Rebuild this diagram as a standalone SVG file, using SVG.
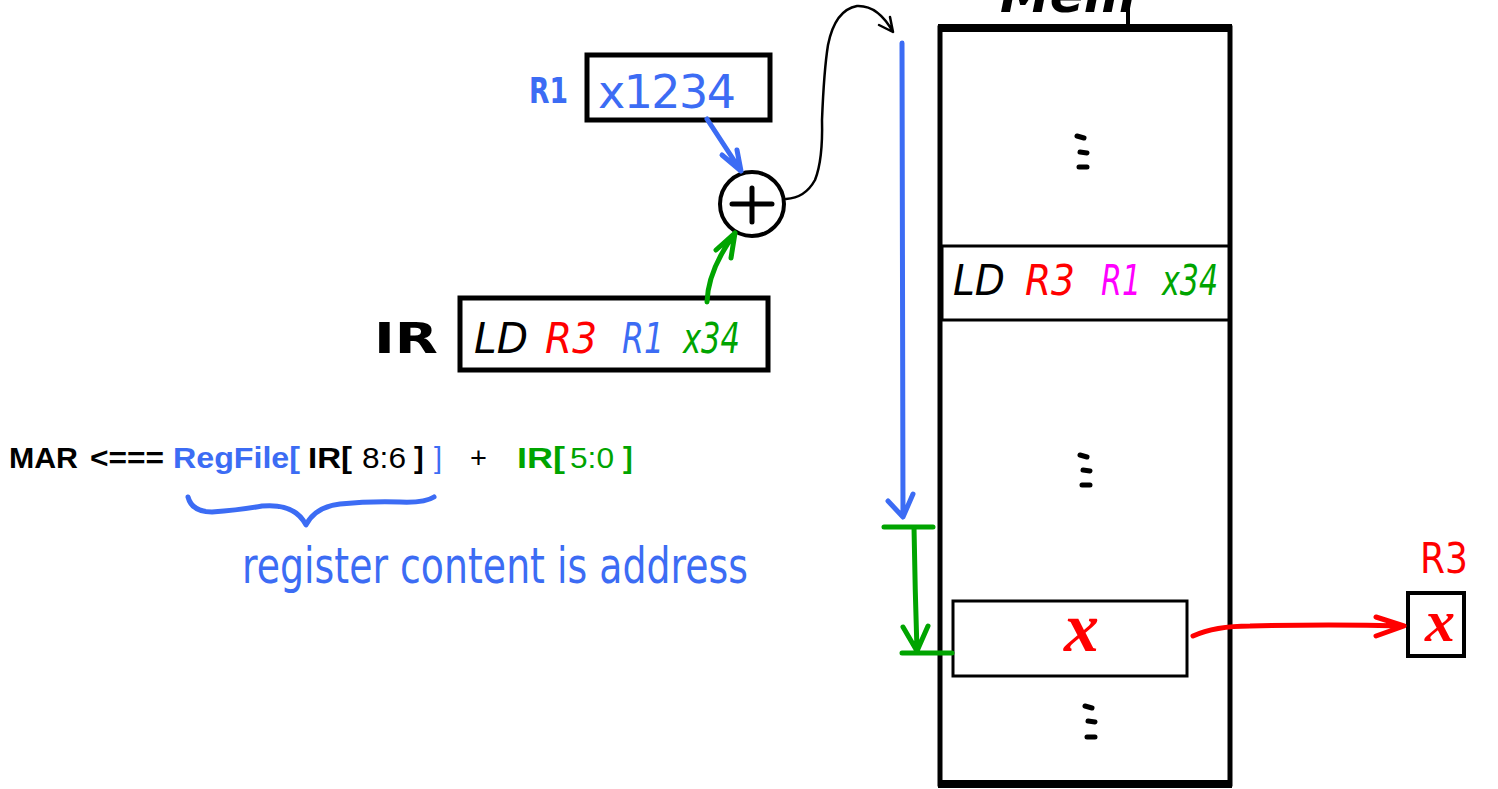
<svg xmlns="http://www.w3.org/2000/svg" width="1498" height="789" viewBox="0 0 1498 789">
<style>
.box{fill:#fff;stroke:#000;stroke-width:5}
.thin{fill:#fff;stroke:#000;stroke-width:3}
.hw{font-family:"DejaVu Sans",sans-serif;font-style:oblique}
.lbl{font-family:"DejaVu Sans",sans-serif}
.eq{font-family:"Liberation Sans",Arial,sans-serif;font-size:29px}
.b{font-weight:bold}
.blue{fill:#3c6cf4}
.red{fill:#ff0000}
.green{fill:#00a400}
.mag{fill:#ff00ff}
.blk{fill:#000}
.dot{stroke:#000;stroke-width:5;stroke-linecap:round;fill:none}
.sb{stroke:#3c6cf4;fill:none;stroke-linecap:round;stroke-linejoin:round}
.sg{stroke:#00a400;fill:none;stroke-linecap:round;stroke-linejoin:round}
.sr{stroke:#ff0000;fill:none;stroke-linecap:round;stroke-linejoin:round}
.sk{stroke:#000;fill:none;stroke-linecap:round;stroke-linejoin:round}
</style>

<g id="mem">
  <text x="1000" y="12" class="lbl b blk" font-size="50" font-style="oblique">Mem</text>
  <line x1="1128" y1="0" x2="1128" y2="25" stroke="#000" stroke-width="4"/>
  <rect x="940" y="28" width="290" height="756" class="box"/>
  <line x1="938" y1="28" x2="1232" y2="28" stroke="#000" stroke-width="8"/>
  <line x1="938" y1="784" x2="1232" y2="784" stroke="#000" stroke-width="8"/>
  <g id="dots1"><path class="dot" d="M1077 136 l7 2 M1080 152 l7 1 M1079 167 l8 0"/></g>
  <g id="dots2"><path class="dot" d="M1080 455 l7 2 M1083 470 l7 1 M1082 485 l8 0"/></g>
  <g id="dots3"><path class="dot" d="M1085 706 l7 2 M1088 721 l7 1 M1087 737 l8 0"/></g>
</g>

<g id="mem-ld-row">
  <rect x="942" y="246" width="287" height="74" class="thin"/>
  <text y="295" class="hw" font-size="42">
    <tspan x="953" class="blk" textLength="52" lengthAdjust="spacingAndGlyphs">LD</tspan>
    <tspan x="1025" class="red" textLength="50" lengthAdjust="spacingAndGlyphs">R3</tspan>
    <tspan x="1101" class="mag" textLength="40" lengthAdjust="spacingAndGlyphs">R1</tspan>
    <tspan x="1162" class="green" textLength="56" lengthAdjust="spacingAndGlyphs">x34</tspan>
  </text>
</g>

<g id="mem-x-cell">
  <rect x="953" y="601" width="234" height="75" class="thin"/>
  <text x="1064" y="651" class="red" font-family="Liberation Serif,serif" font-style="italic" font-weight="bold" font-size="70">x</text>
</g>

<g id="r3">
  <text x="1420" y="573" class="lbl red" font-size="42" textLength="48" lengthAdjust="spacingAndGlyphs">R3</text>
  <rect x="1408" y="593" width="56" height="63" fill="#fff" stroke="#000" stroke-width="4"/>
  <text x="1425" y="641" class="red" font-family="Liberation Serif,serif" font-style="italic" font-weight="bold" font-size="60">x</text>
</g>

<g id="r1">
  <text x="529" y="103" class="lbl b blue" font-size="36" textLength="39" lengthAdjust="spacingAndGlyphs">R1</text>
  <rect x="587" y="55" width="183" height="65" class="box"/>
  <text x="598" y="108" class="lbl blue" font-size="46" textLength="138" lengthAdjust="spacing">x1234</text>
</g>

<g id="adder">
  <circle cx="752" cy="204" r="32" fill="#fff" stroke="#000" stroke-width="4"/>
  <path d="M732 204 H772 M752 188 V222" stroke="#000" stroke-width="5" stroke-linecap="round"/>
</g>

<g id="ir">
  <text x="374" y="353" class="lbl b blk" font-size="42" textLength="64" lengthAdjust="spacingAndGlyphs">IR</text>
  <rect x="460" y="298" width="308" height="72" class="box"/>
  <text y="353" class="hw" font-size="42">
    <tspan x="474" class="blk" textLength="54" lengthAdjust="spacingAndGlyphs">LD</tspan>
    <tspan x="545" class="red" textLength="52" lengthAdjust="spacingAndGlyphs">R3</tspan>
    <tspan x="622" class="blue" textLength="42" lengthAdjust="spacingAndGlyphs">R1</tspan>
    <tspan x="683" class="green" textLength="57" lengthAdjust="spacingAndGlyphs">x34</tspan>
  </text>
</g>

<g id="equation">
  <text y="468" class="eq">
    <tspan x="9" class="b blk" textLength="69" lengthAdjust="spacingAndGlyphs">MAR</tspan>
    <tspan x="90" class="b blk" textLength="74" lengthAdjust="spacingAndGlyphs">&lt;===</tspan>
    <tspan x="173" class="b blue" textLength="127" lengthAdjust="spacingAndGlyphs">RegFile[</tspan>
    <tspan x="308" class="b blk" textLength="44" lengthAdjust="spacingAndGlyphs">IR[</tspan>
    <tspan x="362" class="blk" textLength="44" lengthAdjust="spacingAndGlyphs">8:6</tspan>
    <tspan x="414" class="b blk">]</tspan>
    <tspan x="434" class="blue">]</tspan>
    <tspan x="470" class="blk">+</tspan>
    <tspan x="517" class="b green" textLength="48" lengthAdjust="spacingAndGlyphs">IR[</tspan>
    <tspan x="570" class="green" textLength="44" lengthAdjust="spacingAndGlyphs">5:0</tspan>
    <tspan x="623" class="b green">]</tspan>
  </text>
</g>

<g id="annotation">
  <path class="sb" stroke-width="5" d="M188 497 Q192 512 212 512 Q240 510 262 506 Q295 503 306 525 Q315 507 340 504 Q370 501 400 502 Q425 503 434 497"/>
  <text x="242" y="583" class="lbl blue" font-size="50" textLength="506" lengthAdjust="spacingAndGlyphs">register content is address</text>
</g>

<g id="connectors">
  <path class="sb" stroke-width="5" d="M707 119 L741 171 M722 155 L741 171 L737 150"/>
  <path class="sg" stroke-width="5" d="M707 302 Q708 270 735 233 M716 250 L735 233 L731 258"/>
  <path class="sk" stroke-width="2.5" d="M786 199 Q805 198 815 180 Q823 160 822 120 Q824 70 828 45 Q835 10 857 6 Q878 5 893 32 M879 25 L893 32 L890 17"/>
  <path class="sb" stroke-width="5" d="M902 43 Q903 280 903 517 M888 501 L903 517 L913 494"/>
  <path class="sg" stroke-width="5" d="M884 527 H933 M914 527 Q915 590 917 651 M903 627 L917 651 L928 626 M902 653 H952"/>
  <path class="sr" stroke-width="5" d="M1193 636 Q1215 626 1250 626 Q1330 624 1404 626 M1376 617 L1404 626 L1376 636"/>
</g>
</svg>
